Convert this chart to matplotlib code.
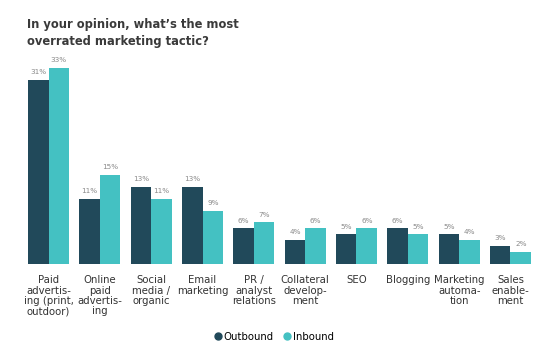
import numpy as np
import matplotlib.pyplot as plt
from matplotlib.lines import Line2D

categories = ['Paid\nadvertis-\ning (print,\noutdoor)', 'Online\npaid\nadvertis-\ning',
              'Social\nmedia /\norganic', 'Email\nmarketing', 'PR /\nanalyst\nrelations',
              'Collateral\ndevelop-\nment', 'SEO', 'Blogging', 'Marketing\nautoma-\ntion',
              'Sales\nenable-\nment']
outbound = [31, 11, 13, 13, 6, 4, 5, 6, 5, 3]
inbound = [33, 15, 11, 9, 7, 6, 6, 5, 4, 2]

c_out = '#21495a'
c_in = '#44c1c2'


def main():
    fig = plt.figure(figsize=(5.56, 3.53), dpi=100)
    ax = fig.add_axes([28 / 556, 1 - 264 / 353, 503 / 556, 196 / 353])

    x = np.arange(len(categories))
    w = 0.4
    ax.bar(x - w / 2, outbound, w, color=c_out)
    ax.bar(x + w / 2, inbound, w, color=c_in)

    # value labels above each bar
    for xi, v in zip(x - w / 2, outbound):
        ax.text(xi, v + 0.8, f'{v}%', ha='center', va='bottom', fontsize=5.2, color='#8a8a8a')
    for xi, v in zip(x + w / 2, inbound):
        ax.text(xi, v + 0.8, f'{v}%', ha='center', va='bottom', fontsize=5.2, color='#8a8a8a')

    ax.set_xlim(-0.4, len(categories) - 0.6)
    ax.set_ylim(0, 33)
    ax.set_xticks(x)
    ax.set_xticklabels(categories, fontsize=7.3, color='#333333', linespacing=1.05)
    ax.tick_params(axis='x', length=0, pad=8)
    ax.set_yticks([])
    for s in ax.spines.values():
        s.set_visible(False)

    fig.text(27 / 556, 1 - 18 / 353, "In your opinion, what’s the most\noverrated marketing tactic?",
             ha='left', va='top', fontsize=8.3, fontweight='bold', color='#3a3a3a',
             linespacing=1.45)

    handles = [Line2D([], [], marker='o', linestyle='', markersize=5, color=c_out),
               Line2D([], [], marker='o', linestyle='', markersize=5, color=c_in)]
    ax.legend(handles, ['Outbound', 'Inbound'], loc='center', bbox_to_anchor=(0.49, -0.37),
              ncol=2, frameon=False, fontsize=7.3, handlelength=0.6, handletextpad=0.3,
              columnspacing=1.0)

    fig.savefig('out.png', dpi=100, facecolor='white')


if __name__ == '__main__':
    main()
